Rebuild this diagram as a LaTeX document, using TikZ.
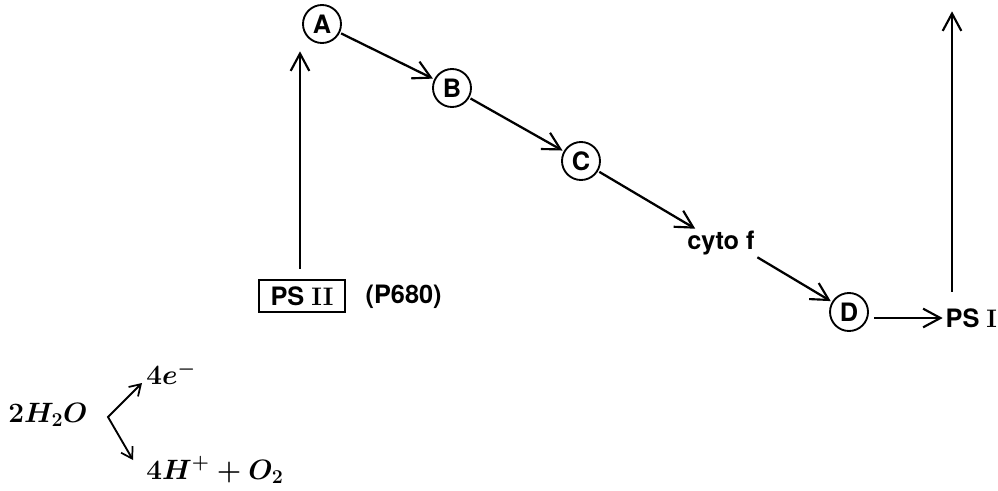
\RequirePackage{fix-cm}
\documentclass[tikz,border=0pt]{standalone}
\usepackage{fontspec}
\newfontfamily\hv{TeX Gyre Heros}
\usetikzlibrary{arrows.meta}
\tikzset{
  circ/.style={draw,circle,line width=1.4pt,minimum size=28.5pt,inner sep=0pt,font=\hv\bfseries\fontsize{19}{21}\selectfont},
  lbl/.style={inner sep=1pt,font=\hv\bfseries\fontsize{19}{21}\selectfont},
  flow/.style={line width=1.7pt,-{Straight Barb[length=13pt,width=14pt,line width=1.6pt]},shorten >=1pt,shorten <=1pt},
  mathlbl/.style={inner sep=0pt,font=\fontsize{21}{24}\selectfont\boldmath},
  small/.style={line width=1.4pt,{Straight Barb[length=8pt,width=10pt,line width=1.3pt]}-{Straight Barb[length=8pt,width=10pt,line width=1.3pt]}}
}
\begin{document}
\begin{tikzpicture}[x=0.75pt,y=-0.75pt]
\useasboundingbox (0,0) rectangle (998,490);
\node[circ] (A) at (322,24) {A};
\node[circ] (B) at (452,88) {B};
\node[circ] (C) at (581,161) {C};
\node[lbl] (cyto) at (721,243) {cyto f};
\node[circ] (D) at (849,312) {D};
\node[lbl,anchor=west] (psi) at (944,318) {PS {\rmfamily I}};
\node[draw,line width=1.5pt,minimum width=64pt,minimum height=24pt,inner sep=0pt,lbl] (psii) at (302,296) {PS {\rmfamily II}};
\node[lbl,anchor=west] (p680) at (364,297) {(P680)};
\coordinate (psitop) at (952,10);
\coordinate (psibot) at (952,293);
\coordinate (psiibot) at (300,270);
\coordinate (psiitop) at (300,50);
\draw[flow] (psiibot) -- (psiitop);
\draw[flow] (A) -- (B);
\draw[flow] (B) -- (C);
\draw[flow] (C) -- ([xshift=8pt]cyto.north west);
\draw[flow] (cyto.south east) -- (D);
\draw[flow] ([xshift=3pt]D.east |- psi.west) -- (psi.west);
\draw[flow] (psibot) -- (psitop);
\node[mathlbl,anchor=west] (h2o) at (8,415) {$2H_2O$};
\node[mathlbl,anchor=west] (e) at (146,373) {$4e^-$};
\node[mathlbl,anchor=west] (hp) at (146,470) {$4H^+ + O_2$};
\coordinate (vtx) at (108,417);
\coordinate (up) at (142,383);
\coordinate (dn) at (133,460);
\draw[small,line join=miter] (up) -- (vtx) -- (dn);
\end{tikzpicture}
\end{document}
